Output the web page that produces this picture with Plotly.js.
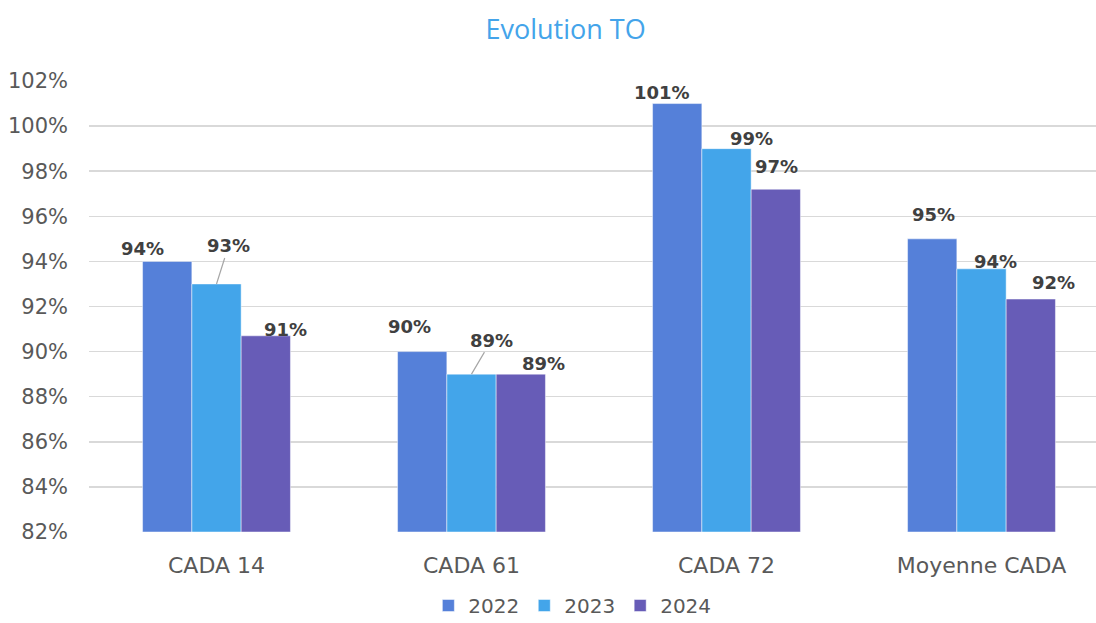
<!DOCTYPE html>
<html>
<head>
<meta charset="utf-8">
<script src="https://cdn.plot.ly/plotly-3.0.1.min.js"></script>
<style>html,body{margin:0;padding:0;background:#fff;}#chart{width:1096px;height:623px;}</style>
</head>
<body>
<div id="chart"></div>
<script>
const categories = ["CADA 14", "CADA 61", "CADA 72", "Moyenne CADA"];
const years = ["2022", "2023", "2024"];
const values2022 = [94.0, 90.0, 101.0, 95.0];
const values2023 = [93.0, 89.0, 99.0, 93.67];
const values2024 = [90.7, 89.0, 97.2, 92.33];
const labels2022 = ["94%", "90%", "101%", "95%"];
const labels2023 = ["93%", "89%", "99%", "94%"];
const labels2024 = ["91%", "89%", "97%", "92%"];
const yTicks = [82, 84, 86, 88, 90, 92, 94, 96, 98, 100, 102];

const colors = ["#5580D9", "#43A5EA", "#675CB7"];
const series = [values2022, values2023, values2024];
const seriesLabels = [labels2022, labels2023, labels2024];

// label placement offsets (pixels) [dx, dy, leader]
const labelOffsets = [
  [[-25, -13, false], [-13, -25, false], [-15, -11, false], [1, -24, false]],
  [[12, -38, true], [20, -34, true], [25, -10, false], [14, -7, false]],
  [[20, -6, false], [23, -11, false], [1, -23, false], [23, -17, false]]
];

const bargap = 0.42;
const groupWidth = 1 - bargap;
const barW = groupWidth / 3;

const traces = series.map((vals, s) => ({
  type: "bar",
  name: years[s],
  x: categories.map((c, i) => i),
  y: vals.map(v => v - 82),
  base: 82,
  marker: {color: colors[s], line: {color: "rgba(255,255,255,0.6)", width: 0.8}},
  hoverinfo: "skip"
}));

const annotations = [];
series.forEach((vals, s) => {
  vals.forEach((v, i) => {
    const off = labelOffsets[s][i];
    const xPos = i + (s - 1) * barW;
    const ann = {
      x: xPos, y: v, xref: "x", yref: "y",
      text: "<b>" + seriesLabels[s][i] + "</b>",
      font: {family: "DejaVu Sans, sans-serif", size: 18, color: "#404040"}
    };
    if (off[2]) {
      ann.showarrow = true; ann.arrowhead = 0; ann.arrowwidth = 1.2;
      ann.arrowcolor = "#a6a6a6"; ann.ax = off[0]; ann.ay = off[1]; ann.standoff = 0;
    } else {
      ann.showarrow = false; ann.xanchor = "center"; ann.yanchor = "middle";
      ann.xshift = off[0]; ann.yshift = -off[1];
    }
    annotations.push(ann);
  });
});

const layout = {
  width: 1096, height: 623,
  margin: {l: 89, r: 0, t: 81, b: 91, autoexpand: false},
  paper_bgcolor: "#ffffff", plot_bgcolor: "#ffffff",
  title: {text: "Evolution TO", x: 0.516, xanchor: "center", y: 0.952, yanchor: "middle",
          font: {family: "Open Sans, sans-serif", size: 27, color: "#44A4EA"}},
  barmode: "group", bargap: bargap, bargroupgap: 0,
  showlegend: true,
  legend: {orientation: "h", x: 0.48, xanchor: "center", y: -0.163, yanchor: "middle",
           font: {family: "DejaVu Sans, sans-serif", size: 20, color: "#595959"},
           itemwidth: 30, traceorder: "normal"},
  xaxis: {
    range: [-0.5, 3.449], tickmode: "array", tickvals: [0, 1, 2, 3], ticktext: categories,
    showgrid: false, zeroline: false, showline: false, ticks: "",
    ticklabelstandoff: 18, automargin: false,
    tickfont: {family: "DejaVu Sans, sans-serif", size: 22, color: "#595959"}, fixedrange: true
  },
  yaxis: {
    range: [82, 102], tickmode: "array", tickvals: yTicks, ticktext: yTicks.map(t => t + "%"),
    showgrid: true, gridcolor: "#d9d9d9", gridwidth: 1.5, zeroline: false, showline: false,
    ticks: "", ticklen: 0, ticklabelstandoff: 20, automargin: false,
    tickfont: {family: "DejaVu Sans, sans-serif", size: 21, color: "#595959"}, fixedrange: true
  },
  annotations: annotations
};

Plotly.newPlot("chart", traces, layout, {displayModeBar: false, staticPlot: true});
</script>
</body>
</html>
